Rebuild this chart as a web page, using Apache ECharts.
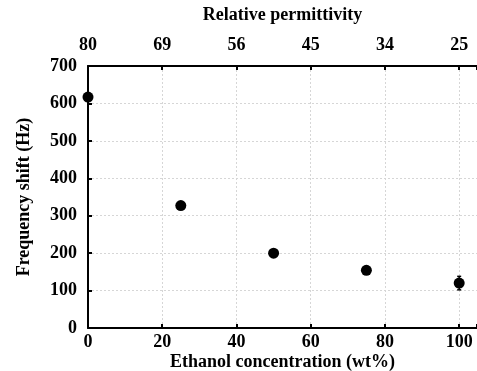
<!DOCTYPE html>
<html>
<head>
<meta charset="utf-8">
<script src="https://cdn.jsdelivr.net/npm/echarts@6/dist/echarts.min.js"></script>
<style>
  html, body { margin: 0; padding: 0; background: #fff; }
  #chart { width: 477px; height: 371px; }
</style>
</head>
<body>
<div id="chart"></div>
<script>
// ethanol concentration (wt%) vs frequency shift (Hz)
const ethanol = [0, 25, 50, 75, 100]
const freqShift = [617, 327, 200, 154, 120]
const errors = [0, 0, 0, 0, 18]
// top axis: relative permittivity at 0,20,...,100 wt%
const permTicks = [0, 20, 40, 60, 80, 100]
const permLabels = ['80', '69', '56', '45', '34', '25']

const chart = echarts.init(document.getElementById('chart'), null, { renderer: 'canvas' })

const font = { fontFamily: 'Liberation Serif', fontWeight: 'bold', fontSize: 18, color: '#000' }
const gridLine = { show: true, lineStyle: { color: '#d6d6d6', type: [2, 2], width: 1 } }

const option = {
  backgroundColor: '#fff',
  animation: false,
  grid: { left: 88, right: 0, top: 66, bottom: 43, outerBoundsMode: 'none', containLabel: false },
  xAxis: [
    {
      type: 'value', position: 'bottom', min: 0, max: 104.8, interval: 20,
      axisLine: { lineStyle: { color: '#000', width: 2 } },
      axisTick: { inside: true, length: 4, lineStyle: { color: '#000', width: 2 } },
      axisLabel: { ...font, margin: 5, formatter: v => (v % 20 === 0 && v <= 100 ? String(v) : '') },
      splitLine: gridLine,
      name: 'Ethanol concentration (wt%)', nameLocation: 'middle', nameGap: 25, nameMoveOverlap: false,
      nameTextStyle: { ...font }
    },
    {
      type: 'value', position: 'top', min: 0, max: 104.8, interval: 20,
      axisLine: { lineStyle: { color: '#000', width: 2 } },
      axisTick: { inside: true, length: 4, lineStyle: { color: '#000', width: 2 } },
      axisLabel: { ...font, margin: 12, formatter: v => {
        const i = permTicks.indexOf(v)
        return i >= 0 ? permLabels[i] : ''
      } },
      splitLine: { show: false },
      name: 'Relative permittivity', nameLocation: 'middle', nameGap: 42, nameMoveOverlap: false,
      nameTextStyle: { ...font }
    }
  ],
  yAxis: {
    type: 'value', min: 0, max: 700, interval: 100,
    axisLine: { show: true, lineStyle: { color: '#000', width: 2 } },
    axisTick: { show: true, inside: true, length: 4, lineStyle: { color: '#000', width: 2 } },
    axisLabel: { ...font, margin: 11 },
    splitLine: gridLine,
    name: 'Frequency shift (Hz)', nameLocation: 'middle', nameGap: 55, nameRotate: 90, nameMoveOverlap: false,
    nameTextStyle: { ...font }
  },
  series: [
    {
      type: 'custom',
      xAxisIndex: 0,
      data: ethanol.map((x, i) => [x, freqShift[i] - errors[i], freqShift[i] + errors[i]]),
      renderItem: (params, api) => {
        const lo = api.coord([api.value(0), api.value(1)])
        const hi = api.coord([api.value(0), api.value(2)])
        return {
          type: 'group',
          children: [
            { type: 'line', shape: { x1: lo[0], y1: lo[1], x2: hi[0], y2: hi[1] }, style: { stroke: '#000', lineWidth: 1.5 } },
            { type: 'line', shape: { x1: lo[0] - 2, y1: lo[1], x2: lo[0] + 2, y2: lo[1] }, style: { stroke: '#000', lineWidth: 1.5 } },
            { type: 'line', shape: { x1: hi[0] - 2, y1: hi[1], x2: hi[0] + 2, y2: hi[1] }, style: { stroke: '#000', lineWidth: 1.5 } }
          ]
        }
      },
      z: 3
    },
    {
      type: 'scatter',
      xAxisIndex: 0,
      data: ethanol.map((x, i) => [x, freqShift[i]]),
      symbol: 'circle',
      symbolSize: 11,
      itemStyle: { color: '#000', opacity: 1 },
      clip: false,
      z: 5
    }
  ]
}

chart.setOption(option)
</script>
</body>
</html>
